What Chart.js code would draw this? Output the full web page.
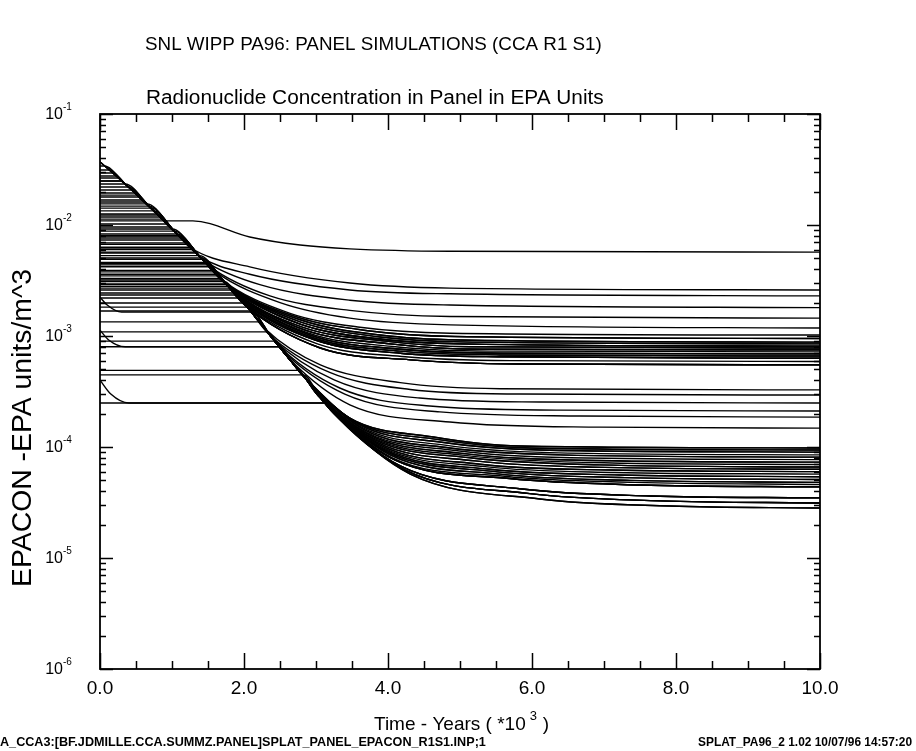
<!DOCTYPE html>
<html>
<head>
<meta charset="utf-8">
<script src="https://cdn.jsdelivr.net/npm/chart.js@4.4.1/dist/chart.umd.min.js"></script>
<style>
  body { margin: 0; background: #fff; }
  canvas { display: block; }
</style>
</head>
<body>
<canvas id="myChart" width="916" height="751"></canvas>
<script>
// --- values (time in 10^3 years, EPA units/m^3) ---

// common early decay line that most realizations ride down
var steepT = [0, 0.35, 0.69, 1.04, 1.39, 1.74, 2.08, 2.36, 2.64, 2.85, 3.06];
var steepV = [0.037, 0.0234, 0.0145, 0.00865, 0.00515, 0.0030, 0.00171, 0.00102, 0.00061, 0.00042, 0.00028];

// the one curve that stays high (flat ~1e-2 then settles near 5.7e-3)
var upperT = [0, 1.29, 2.08, 2.78, 3.47, 4.86, 10];
var upperV = [0.0109, 0.0109, 0.0078, 0.0066, 0.0061, 0.0058, 0.0057];

// tails leaving the decay line and levelling off
var tailNames = ['M1','M2','M3','M4','M5','M6','M6b','M7','M7b','M8','M8b','M9','M9b','M10','M10b','M11','M11b','M12',
                 'M13','M14','M15','M16','M17','M18',
                 'L1','L1b','L2','L2b','L3','L3b','L4','L4b','L5','L5b','L6','L6b','L7','L7b','L8','L8b','L9',
                 'L10','L11','L12'];
var tailT = [
  [1.25, 2.08, 3.47, 4.86, 10],
  [1.39, 2.08, 3.47, 4.86, 10],
  [1.46, 2.22, 3.47, 4.86, 10],
  [1.53, 2.36, 3.47, 4.86, 10],
  [1.60, 2.50, 3.47, 4.86, 10],
  [1.67, 2.64, 3.61, 4.86, 10],
  [1.70, 2.71, 3.75, 4.93, 10],
  [1.74, 2.78, 3.89, 5.00, 10],
  [1.76, 2.78, 3.89, 5.00, 10],
  [1.78, 2.78, 3.89, 5.00, 10],
  [1.80, 2.81, 3.96, 5.14, 10],
  [1.83, 2.85, 4.03, 5.28, 10],
  [1.85, 2.88, 4.10, 5.42, 10],
  [1.88, 2.92, 4.17, 5.56, 10],
  [1.90, 2.95, 4.17, 5.56, 10],
  [1.92, 2.99, 4.17, 5.56, 10],
  [1.96, 3.02, 4.24, 5.70, 10],
  [2.01, 3.06, 4.31, 5.83, 10],
  [2.29, 3.06, 4.17, 5.56, 10],
  [2.33, 3.19, 4.31, 5.83, 10],
  [2.39, 3.26, 4.44, 6.11, 10],
  [2.44, 3.33, 4.58, 6.39, 10],
  [2.50, 3.40, 4.72, 6.67, 10],
  [2.64, 3.47, 4.86, 6.94, 10],
  [2.78, 3.47, 4.63, 5.83, 10],
  [2.81, 3.54, 4.68, 5.97, 10],
  [2.85, 3.61, 4.72, 6.11, 10],
  [2.88, 3.64, 4.79, 6.25, 10],
  [2.92, 3.68, 4.86, 6.39, 10],
  [2.94, 3.71, 4.93, 6.53, 10],
  [2.97, 3.75, 5.00, 6.67, 10],
  [2.99, 3.78, 5.07, 6.80, 10],
  [3.01, 3.82, 5.14, 6.94, 10],
  [3.03, 3.85, 5.21, 7.01, 10],
  [3.06, 3.89, 5.28, 7.08, 10],
  [3.07, 3.92, 5.35, 7.15, 10],
  [3.08, 3.96, 5.42, 7.22, 10],
  [3.10, 3.99, 5.49, 7.29, 10],
  [3.13, 4.03, 5.56, 7.36, 10],
  [3.15, 4.06, 5.62, 7.43, 10],
  [3.17, 4.10, 5.69, 7.50, 10],
  [3.19, 4.17, 5.83, 7.64, 10],
  [3.22, 4.24, 5.97, 7.78, 10],
  [3.25, 4.31, 6.11, 7.92, 10]
];
var tailV = [
  [0.0063, 0.0042, 0.0030, 0.0027, 0.0026],
  [0.0052, 0.0036, 0.0026, 0.0024, 0.0023],
  [0.0047, 0.0029, 0.0021, 0.0019, 0.0018],
  [0.0042, 0.0023, 0.0017, 0.0015, 0.00145],
  [0.0038, 0.0020, 0.00145, 0.00126, 0.00118],
  [0.0033, 0.0016, 0.0012, 0.00106, 0.00102],
  [0.00315, 0.0015, 0.00111, 0.00099, 0.00095],
  [0.0030, 0.0014, 0.00102, 0.00092, 0.00088],
  [0.0029, 0.00134, 0.00098, 0.000885, 0.00085],
  [0.0028, 0.00128, 0.00094, 0.00085, 0.00081],
  [0.0027, 0.0012, 0.0009, 0.0008, 0.00078],
  [0.0026, 0.00113, 0.00085, 0.00076, 0.00075],
  [0.0025, 0.00107, 0.0008, 0.00073, 0.00072],
  [0.0024, 0.00102, 0.00076, 0.0007, 0.00069],
  [0.0023, 0.00097, 0.00073, 0.000675, 0.00066],
  [0.0022, 0.00092, 0.0007, 0.00065, 0.00063],
  [0.00205, 0.00085, 0.00065, 0.0006, 0.00059],
  [0.0019, 0.00078, 0.00061, 0.00056, 0.00055],
  [0.00116, 0.00055, 0.00038, 0.000335, 0.000327],
  [0.00106, 0.00047, 0.00033, 0.0003, 0.000294],
  [0.00096, 0.0004, 0.000276, 0.000254, 0.000249],
  [0.00087, 0.00034, 0.000234, 0.000215, 0.000211],
  [0.00078, 0.0003, 0.000207, 0.00019, 0.000186],
  [0.00061, 0.00024, 0.000168, 0.000151, 0.000148],
  [0.00047, 0.000182, 0.000123, 0.000102, 0.000098],
  [0.000445, 0.00017, 0.000117, 0.000098, 0.000094],
  [0.00042, 0.000158, 0.000111, 0.000094, 0.00009],
  [0.000395, 0.00015, 0.000104, 0.000089, 0.000085],
  [0.00037, 0.000142, 0.000098, 0.000085, 0.000081],
  [0.00035, 0.000135, 0.000093, 0.00008, 0.000077],
  [0.00033, 0.000128, 0.000088, 0.000076, 0.000073],
  [0.000315, 0.000122, 0.000084, 0.0000725, 0.0000695],
  [0.0003, 0.000116, 0.00008, 0.000069, 0.000066],
  [0.00029, 0.00011, 0.000075, 0.0000655, 0.000063],
  [0.00028, 0.000104, 0.00007, 0.000062, 0.00006],
  [0.000275, 0.000099, 0.0000665, 0.000059, 0.000057],
  [0.00027, 0.000094, 0.000063, 0.000056, 0.000054],
  [0.00026, 0.00009, 0.00006, 0.000053, 0.000051],
  [0.00025, 0.000085, 0.000057, 0.00005, 0.000048],
  [0.00024, 0.00008, 0.0000545, 0.000048, 0.000046],
  [0.00023, 0.000076, 0.000052, 0.0000455, 0.0000437],
  [0.00022, 0.0000675, 0.000042, 0.0000362, 0.0000348],
  [0.00021, 0.000062, 0.000038, 0.0000327, 0.0000313],
  [0.0002, 0.000057, 0.000034, 0.0000294, 0.0000282]
];

// each realization: starting (solubility) level, time it meets the decay line, tail it follows
var startLevel = [0.037, 0.037, 0.037, 0.034, 0.0313, 0.0294, 0.0249, 0.0234, 0.0207, 0.0179,
                  0.0168, 0.0155, 0.0142, 0.0134, 0.0126, 0.0118, 0.0102, 0.0096, 0.0088, 0.0083,
                  0.0078, 0.0073, 0.0069, 0.0063, 0.0060, 0.0056, 0.0053, 0.0049, 0.0045, 0.0042,
                  0.0039, 0.0036, 0.0033, 0.0031, 0.0028, 0.0026, 0.0022, 0.00168, 0.00134, 0.00109,
                  0.0009, 0.0008, 0.00049, 0.000446, 0.000249, 0.0067, 0.0046, 0.0029, 0.0027, 0.0265,
                  0.0194, 0.0123, 0.0249, 0.0276, 0.022, 0.0186, 0.0161, 0.0148, 0.0113, 0.0092,
                  0.008, 0.0075, 0.0061, 0.0057, 0.00505, 0.00437, 0.00378, 0.00348, 0.0032, 0.00294,
                  0.00244, 0.00234, 0.00198, 0.00182];
var kneeTime   = [0, 0, 0, 0.06, 0.13, 0.17, 0.29, 0.35, 0.43, 0.54,
                  0.58, 0.65, 0.71, 0.75, 0.79, 0.83, 0.93, 0.97, 1.03, 1.07,
                  1.11, 1.15, 1.19, 1.25, 1.29, 1.33, 1.38, 1.42, 1.47, 1.53,
                  1.56, 1.61, 1.67, 1.72, 1.78, 1.83, 1.93, 2.10, 2.22, 2.33,
                  2.43, 2.50, 2.75, 2.82, 3.13, 1.21, 1.46, 1.76, 1.80, 0.25,
                  0.47, 0.81, 0.29, 0.22, 0.39, 0.51, 0.62, 0.68, 0.86, 1.00,
                  1.10, 1.14, 1.28, 1.32, 1.40, 1.50, 1.59, 1.64, 1.69, 1.75,
                  1.86, 1.89, 1.99, 2.04];
var tailOf     = ['L1','L5','L9','L3','L7','M10','L12','L2','M1','L4',
                  'M9','L6','M2','L8','M7','L10','M3','L11','M11','M8',
                  'L1','M12','M4','L5','M5','M9','L3','M6','M10','M7',
                  'L7','M8','M11','M12','L2','M13','M14','M15','M16','M17',
                  'M18','L4','L8','L9','L12','M9','M8','M10','M11','M12',
                  'L11','L9','L6','L1b','L2b','M6b','L3b','M7b','L4b','M8b',
                  'L5b','M9b','L6b','M10b','L7b','M11b','L8b','M6b','M7b','M8b',
                  'L1b','M10b','L5b','L7b'];

// realizations that start a little higher and drop quickly to their level
var dropHeadT = [[0, 0.10, 0.30], [0, 0.12, 0.35], [0, 0.15, 0.40]];
var dropHeadV = [[0.00224, 0.0019, 0.00164], [0.00113, 0.00092, 0.0008], [0.0004, 0.0003, 0.000249]];
var dropKnee  = [2.11, 2.50, 3.13];
var dropTail  = ['L10', 'L11', 'L10'];

// axis labels
var xTickValues = [0, 2, 4, 6, 8, 10];
var xTickLabels = ['0.0', '2.0', '4.0', '6.0', '8.0', '10.0'];
var yTickValues = [1e-1, 1e-2, 1e-3, 1e-4, 1e-5, 1e-6];
var yTickExp    = ['-1', '-2', '-3', '-4', '-5', '-6'];

var titleText    = 'SNL WIPP PA96: PANEL SIMULATIONS (CCA R1 S1)';
var subtitleText = 'Radionuclide Concentration in Panel in EPA Units';
var yTitleText   = 'EPACON -EPA units/m^3';
var footLeft     = 'A_CCA3:[BF.JDMILLE.CCA.SUMMZ.PANEL]SPLAT_PANEL_EPACON_R1S1.INP;1';
var footRight    = 'SPLAT_PA96_2 1.02 10/07/96 14:57:20';

var FONT = '"Liberation Sans", Arial, Helvetica, sans-serif';

function buildCurve(headT, headV, knee, tailName) {
  var pts = [];
  for (var i = 0; i < headT.length; i++) {
    pts.push({x: headT[i], y: headV[i]});
  }
  var k = tailNames.indexOf(tailName);
  var tT = tailT[k], tV = tailV[k];
  for (var j = 0; j < steepT.length; j++) {
    if (steepT[j] > knee + 0.05 && steepT[j] < tT[0] - 0.05) {
      pts.push({x: steepT[j], y: steepV[j]});
    }
  }
  for (var n = 0; n < tT.length; n++) {
    if (tT[n] > pts[pts.length - 1].x) pts.push({x: tT[n], y: tV[n]});
  }
  return pts;
}

var datasets = [];
for (var i = 0; i < startLevel.length; i++) {
  var hT = kneeTime[i] > 0 ? [0, kneeTime[i]] : [0];
  var hV = kneeTime[i] > 0 ? [startLevel[i], startLevel[i]] : [startLevel[i]];
  datasets.push({data: buildCurve(hT, hV, kneeTime[i], tailOf[i])});
}
for (var d = 0; d < dropHeadT.length; d++) {
  var lvl = dropHeadV[d][dropHeadV[d].length - 1];
  datasets.push({data: buildCurve(dropHeadT[d].concat([dropKnee[d]]), dropHeadV[d].concat([lvl]), dropKnee[d], dropTail[d])});
}
var upperPts = [];
for (var u = 0; u < upperT.length; u++) upperPts.push({x: upperT[u], y: upperV[u]});
datasets.push({data: upperPts});

function fitFont(ctx, text, width, weight) {
  ctx.font = weight + ' 100px ' + FONT;
  var size = 100 * width / ctx.measureText(text).width;
  ctx.font = weight + ' ' + size.toFixed(2) + 'px ' + FONT;
}

var frame = {
  id: 'frame',
  afterDatasetsDraw: function(chart) {
    var ctx = chart.ctx, a = chart.chartArea;
    var xs = chart.scales.x, ys = chart.scales.y;
    ctx.save();
    ctx.strokeStyle = '#000';
    ctx.fillStyle = '#000';

    // box
    ctx.lineWidth = 1.8;
    ctx.strokeRect(a.left, a.top, a.right - a.left, a.bottom - a.top);

    // ticks, all pointing inward
    ctx.lineWidth = 1.5;
    ctx.beginPath();
    for (var s = 0; s <= 20; s++) {
      var t = s * 0.5;
      var px = Math.round(xs.getPixelForValue(t)) + 0.5;
      var len = (s % 4 === 0) ? 16 : 8;
      ctx.moveTo(px, a.bottom); ctx.lineTo(px, a.bottom - len);
      ctx.moveTo(px, a.top); ctx.lineTo(px, a.top + len);
    }
    for (var e = -6; e <= -1; e++) {
      var base = Math.pow(10, e);
      for (var m = 1; m <= 9; m++) {
        var v = base * m;
        if (v > 0.1000001) break;
        var py = Math.round(ys.getPixelForValue(v)) + 0.5;
        var l = (m === 1) ? 13 : 6;
        ctx.moveTo(a.left, py); ctx.lineTo(a.left + l, py);
        ctx.moveTo(a.right, py); ctx.lineTo(a.right - l, py);
      }
    }
    ctx.stroke();

    // x tick labels
    ctx.font = '19px ' + FONT;
    ctx.textAlign = 'center';
    ctx.textBaseline = 'alphabetic';
    for (var i = 0; i < xTickValues.length; i++) {
      ctx.fillText(xTickLabels[i], xs.getPixelForValue(xTickValues[i]), a.bottom + 25);
    }

    // y tick labels: 10 with raised exponent
    for (var j = 0; j < yTickValues.length; j++) {
      var yy = ys.getPixelForValue(yTickValues[j]);
      ctx.textAlign = 'right';
      ctx.font = '16px ' + FONT;
      ctx.fillText('10', 63, yy + 5);
      ctx.textAlign = 'left';
      ctx.font = '10px ' + FONT;
      ctx.fillText(yTickExp[j], 63, yy - 4);
    }

    // axis titles
    ctx.textAlign = 'left';
    ctx.font = '19px ' + FONT;
    var xt1 = 'Time - Years ( *10';
    var w1 = ctx.measureText(xt1).width;
    var x0 = 374;
    ctx.fillText(xt1, x0, 730);
    ctx.font = '13px ' + FONT;
    ctx.fillText('3', x0 + w1 + 4, 720);
    ctx.font = '19px ' + FONT;
    ctx.fillText(')', x0 + w1 + 17, 730);

    ctx.save();
    ctx.translate(31, 428);
    ctx.rotate(-Math.PI / 2);
    ctx.textAlign = 'center';
    fitFont(ctx, yTitleText, 318, '');
    ctx.fillText(yTitleText, 0, 0);
    ctx.restore();

    // titles
    ctx.textAlign = 'left';
    fitFont(ctx, titleText, 457, '');
    ctx.fillText(titleText, 145, 50);
    fitFont(ctx, subtitleText, 458, '');
    ctx.fillText(subtitleText, 146, 104);

    // footer
    fitFont(ctx, footLeft, 486, 'bold');
    ctx.fillText(footLeft, 0, 746);
    fitFont(ctx, footRight, 214, 'bold');
    ctx.fillText(footRight, 698, 746);

    ctx.restore();
  }
};

var config = {
  type: 'line',
  data: { datasets: datasets },
  options: {
    responsive: false,
    animation: false,
    devicePixelRatio: 1,
    layout: { padding: { left: 100, top: 114, right: 96, bottom: 82 } },
    elements: {
      point: { radius: 0 },
      line: { borderColor: '#000', borderWidth: 1.4, fill: false, cubicInterpolationMode: 'monotone' }
    },
    scales: {
      x: { type: 'linear', min: 0, max: 10, display: false },
      y: { type: 'logarithmic', min: 1e-6, max: 1e-1, display: false }
    },
    plugins: { legend: { display: false }, tooltip: { enabled: false }, title: { display: false } }
  },
  plugins: [frame]
};

var myChart = new Chart(document.getElementById('myChart'), config);
</script>
</body>
</html>
